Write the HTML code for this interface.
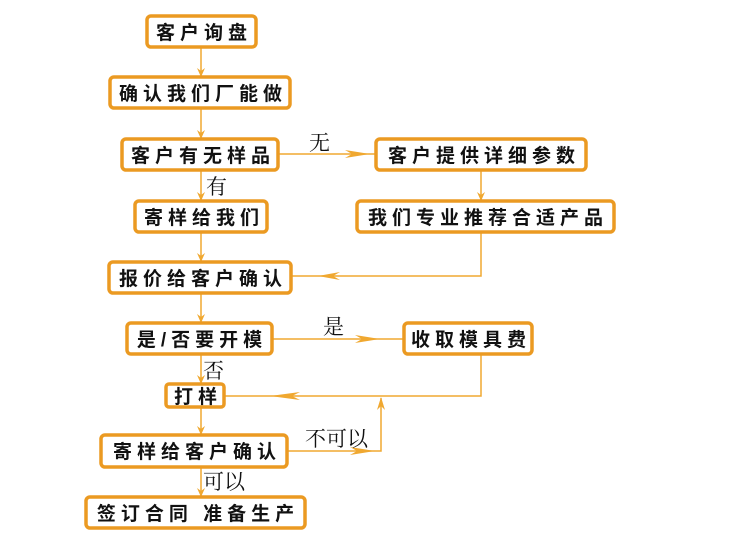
<!DOCTYPE html>
<html><head><meta charset="utf-8"><style>
html,body{margin:0;padding:0;background:#fff;}
svg{display:block;}
.b{fill:#fff;stroke:#eb9a22;stroke-width:3.5;}
.t{font-family:"Liberation Sans","Noto Sans CJK SC",sans-serif;font-weight:bold;font-size:19px;fill:#111;letter-spacing:5px;}
.l{font-family:"Liberation Serif","Noto Serif CJK SC",serif;font-size:21px;fill:#111;}
.c{stroke:#f0a830;stroke-width:1.5;fill:none;}
.a{fill:#f0a830;}
</style></head><body>
<svg width="750" height="550" viewBox="0 0 750 550" xmlns="http://www.w3.org/2000/svg">
<path class="c" d="M201 47V77M201 108V139M201 170V201M201 232V262M201 293V323M201 354V384M201 407V435M201 467V497"/>
<path class="c" d="M278 154H376M481 170V201M481 232V276H291M272 339H404M481 354V396H224M287 451H381V398"/>
<g class="a">
<path d="M197 68L201 77L205 68L201 71Z"/>
<path d="M197 130L201 139L205 130L201 133Z"/>
<path d="M197 192L201 201L205 192L201 195Z"/>
<path d="M197 253L201 262L205 253L201 256Z"/>
<path d="M197 314L201 323L205 314L201 317Z"/>
<path d="M197 375L201 384L205 375L201 378Z"/>
<path d="M197 426L201 435L205 426L201 429Z"/>
<path d="M197 488L201 497L205 488L201 491Z"/>
<path d="M477 192L481 201L485 192L481 195Z"/>
<path d="M345 150L370 154L345 158L352 154Z"/>
<path d="M355 335L380 339L355 343L362 339Z"/>
<path d="M350 447L375 451L350 455L357 451Z"/>
<path d="M340 272L318 276L340 280L333 276Z"/>
<path d="M300 392L270 396L300 400L292 396Z"/>
<path d="M377 410L381 397L385 410L381 406Z"/>
</g>
<rect class="b" x="147" y="16" width="109" height="31" rx="4"/>
<rect class="b" x="110" y="77" width="180" height="31" rx="4"/>
<rect class="b" x="122" y="139" width="156" height="31" rx="4"/>
<rect class="b" x="376" y="139" width="210" height="31" rx="4"/>
<rect class="b" x="135" y="201" width="132" height="31" rx="4"/>
<rect class="b" x="357" y="201" width="257" height="31" rx="4"/>
<rect class="b" x="109" y="262" width="182" height="31" rx="4"/>
<rect class="b" x="127" y="323" width="145" height="31" rx="4"/>
<rect class="b" x="404" y="323" width="128" height="31" rx="4"/>
<rect class="b" x="166" y="384" width="58" height="23" rx="3"/>
<rect class="b" x="101" y="435" width="186" height="32" rx="4"/>
<rect class="b" x="86" y="497" width="219" height="31" rx="4"/>
<g class="t" text-anchor="middle">
<text x="204" y="39">客户询盘</text>
<text x="203" y="100">确认我们厂能做</text>
<text x="203" y="162">客户有无样品</text>
<text x="484" y="162">客户提供详细参数</text>
<text x="204" y="224">寄样给我们</text>
<text x="488" y="224">我们专业推荐合适产品</text>
<text x="203" y="285">报价给客户确认</text>
<text x="202" y="346">是/否要开模</text>
<text x="471" y="346">收取模具费</text>
<text x="198" y="403">打样</text>
<text x="197" y="458">寄样给客户确认</text>
<text x="198" y="520">签订合同 准备生产</text>
</g>
<g class="l">
<text x="309" y="150">无</text>
<text x="206" y="194">有</text>
<text x="323" y="334">是</text>
<text x="203" y="378">否</text>
<text x="305" y="446">不可以</text>
<text x="203" y="489">可以</text>
</g>
</svg>
</body></html>
